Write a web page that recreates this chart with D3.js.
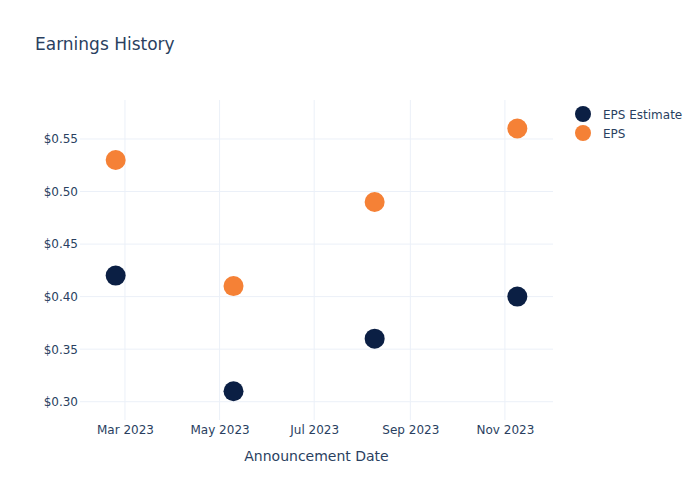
<!DOCTYPE html>
<html>
<head>
<meta charset="utf-8">
<script src="https://cdn.jsdelivr.net/npm/d3@7"></script>
<style>
body { margin: 0; background: #fff; }
svg text { font-family: "DejaVu Sans", Verdana, sans-serif; fill: #2a3f5f; }
</style>
</head>
<body>
<svg id="chart" width="700" height="500"></svg>
<script>
const dates = ["2023-02-23", "2023-05-10", "2023-08-09", "2023-11-09"];
const epsEstimate = [0.42, 0.31, 0.36, 0.40];
const eps = [0.53, 0.41, 0.49, 0.56];
const seriesNames = ["EPS Estimate", "EPS"];
const seriesColors = ["#0b1f44", "#f58136"];
const yTicks = [0.30, 0.35, 0.40, 0.45, 0.50, 0.55];
const xTicks = ["2023-03-01", "2023-05-01", "2023-07-01", "2023-09-01", "2023-11-01"];

const parse = d3.utcParse("%Y-%m-%d");
const svg = d3.select("#chart");
const m = { left: 80, right: 553, top: 100, bottom: 420 };

const x = d3.scaleUtc()
  .domain([parse("2023-01-31"), parse("2023-12-02")])
  .range([m.left, m.right]);
const y = d3.scaleLinear()
  .domain([0.2826, 0.5871])
  .range([m.bottom, m.top]);

// gridlines
svg.append("g").selectAll("line").data(xTicks).join("line")
  .attr("x1", d => x(parse(d))).attr("x2", d => x(parse(d)))
  .attr("y1", m.top).attr("y2", m.bottom)
  .attr("stroke", "#ebf0f8").attr("stroke-width", 1);
svg.append("g").selectAll("line").data(yTicks).join("line")
  .attr("x1", m.left).attr("x2", m.right)
  .attr("y1", d => y(d)).attr("y2", d => y(d))
  .attr("stroke", "#ebf0f8").attr("stroke-width", 1);

// axes
const xAxis = d3.axisBottom(x)
  .tickValues(xTicks.map(parse))
  .tickFormat(d3.utcFormat("%b %Y"))
  .tickSize(0).tickPadding(5);
const gx = svg.append("g").attr("transform", `translate(0,${m.bottom})`).call(xAxis);
gx.select(".domain").remove();
gx.selectAll("text").attr("font-size", 12).attr("fill", "#2a3f5f").attr("font-family", "DejaVu Sans, sans-serif");

const yAxis = d3.axisLeft(y)
  .tickValues(yTicks)
  .tickFormat(d => "$" + d3.format(".2f")(d))
  .tickSize(0).tickPadding(2);
const gy = svg.append("g").attr("transform", `translate(${m.left},0)`).call(yAxis);
gy.select(".domain").remove();
gy.selectAll("text").attr("font-size", 12).attr("fill", "#2a3f5f").attr("font-family", "DejaVu Sans, sans-serif");

// points
const series = [epsEstimate, eps];
series.forEach((vals, si) => {
  svg.append("g").selectAll("circle").data(vals).join("circle")
    .attr("cx", (d, i) => x(parse(dates[i])))
    .attr("cy", d => y(d))
    .attr("r", 10)
    .attr("fill", seriesColors[si]);
});

// title
svg.append("text").attr("x", 35).attr("y", 50)
  .attr("font-size", 17).text("Earnings History");

// axis title
svg.append("text").attr("x", (m.left + m.right) / 2).attr("y", 461)
  .attr("text-anchor", "middle").attr("font-size", 14).text("Announcement Date");

// legend
const leg = svg.append("g");
seriesNames.forEach((name, i) => {
  leg.append("circle").attr("cx", 583).attr("cy", 114 + i * 19).attr("r", 8).attr("fill", seriesColors[i]);
  leg.append("text").attr("x", 603).attr("y", 114 + i * 19 + 4.5).attr("font-size", 12).text(name);
});
</script>
</body>
</html>
